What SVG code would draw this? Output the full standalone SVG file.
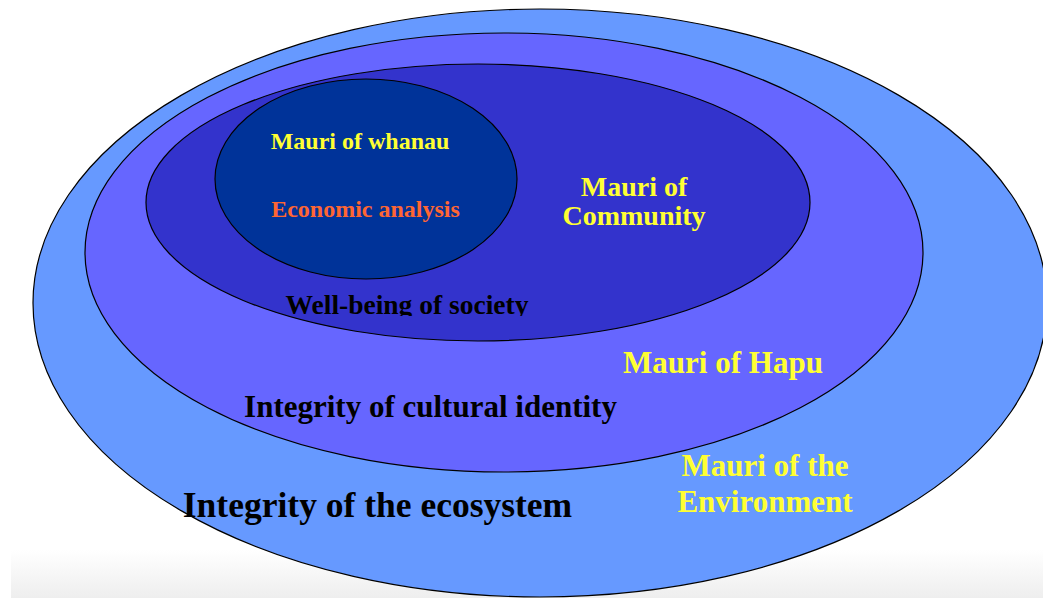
<svg xmlns="http://www.w3.org/2000/svg" width="1043" height="598" viewBox="0 0 1043 598">
<defs>
<linearGradient id="floor" x1="0" y1="0" x2="0" y2="1">
<stop offset="0" stop-color="#ffffff"/>
<stop offset="1" stop-color="#eeeeee"/>
</linearGradient>
<clipPath id="wbclip"><rect x="0" y="0" width="1043" height="316"/></clipPath>
<style>
.ring{stroke:#000;stroke-width:1.2}
text{font-family:"Liberation Serif","Times New Roman",serif;font-weight:bold;text-anchor:middle}
.y{fill:#ffff33}
.k{fill:#000}
.o{fill:#ff6633}
</style>
</defs>
<rect width="1043" height="598" fill="#ffffff"/>
<rect x="11" y="550" width="1032" height="48" fill="url(#floor)"/>
<g id="environment">
<ellipse class="ring" cx="540" cy="303" rx="507" ry="294" fill="#6699ff"/>
</g>
<g id="hapu">
<ellipse class="ring" cx="504" cy="252.5" rx="419" ry="219.5" fill="#6666ff"/>
</g>
<g id="community">
<ellipse class="ring" cx="478" cy="202.5" rx="332" ry="138.5" fill="#3333cc"/>
</g>
<g id="whanau">
<ellipse class="ring" cx="366" cy="179" rx="151" ry="100" fill="#003399"/>
</g>
<g id="labels">
<text class="y" x="360" y="149" font-size="24">Mauri of whanau</text>
<text class="o" x="365.5" y="217" font-size="24">Economic analysis</text>
<text class="k" x="407" y="313.5" font-size="27.5" clip-path="url(#wbclip)">Well-being of society</text>
<text class="y" x="634" y="196" font-size="28">Mauri of</text>
<text class="y" x="634" y="225" font-size="28">Community</text>
<text class="y" x="723" y="373" font-size="31">Mauri of Hapu</text>
<text class="k" x="430.5" y="417" font-size="31">Integrity of cultural identity</text>
<text class="y" x="765" y="476" font-size="31">Mauri of the</text>
<text class="y" x="765" y="512" font-size="31">Environment</text>
<text class="k" x="377.5" y="517" font-size="35.5">Integrity of the ecosystem</text>
</g>
</svg>
